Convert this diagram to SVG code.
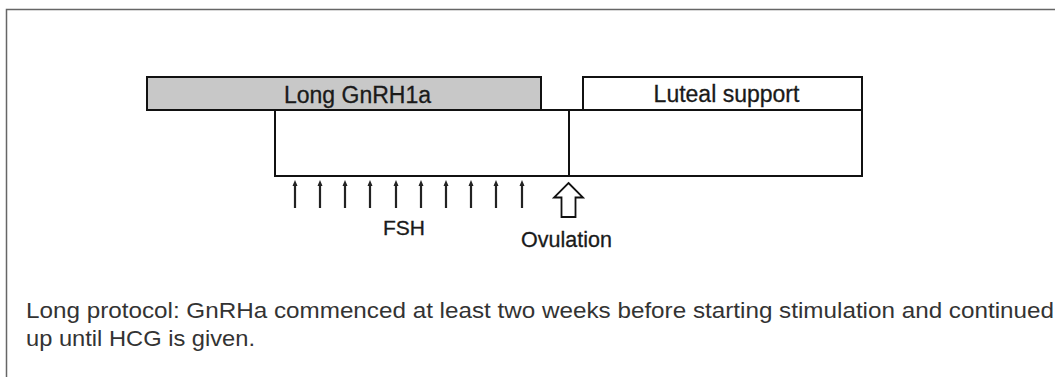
<svg xmlns="http://www.w3.org/2000/svg" width="1055" height="377" viewBox="0 0 1055 377">
<style>
.box{stroke:#111;stroke-width:2;}
.lbl{font-family:"Liberation Sans",Arial,sans-serif;fill:#1a1a1a;stroke:#1a1a1a;stroke-width:0.3;text-anchor:middle;}
.cap{font-family:"Liberation Sans",Arial,sans-serif;fill:#333;font-size:22px;}
.fsh{stroke:#222;stroke-width:2.2;fill:none;}
</style>
<rect width="1055" height="377" fill="#fff"/>
<g id="frame">
<path d="M6.5,377 V9.5 H1055" fill="none" stroke="#666" stroke-width="1.5"/>
</g>
<g id="long-gnrh1a">
<rect class="box" x="147" y="77" width="394" height="33" fill="#c8c8c8"/>
<text class="lbl" x="357.5" y="103" font-size="23">Long GnRH1a</text>
</g>
<g id="luteal-support">
<rect class="box" x="583" y="77" width="279" height="33" fill="#fff"/>
<text class="lbl" x="726.5" y="102" font-size="23">Luteal support</text>
</g>
<g id="stimulation">
<rect class="box" x="275" y="110" width="294" height="66" fill="#fff"/>
</g>
<g id="luteal-phase">
<rect class="box" x="569" y="110" width="293" height="66" fill="#fff"/>
</g>
<g id="connectors">
<path class="fsh" d="M295,208 V184 M320,208 V184 M345,208 V184 M370,208 V184 M396,208 V184 M421,208 V184 M446,208 V184 M471,208 V184 M496,208 V184 M522,208 V184"/>
<g fill="#222">
<path d="M295,180 l-2.5,6 h5 z"/>
<path d="M320,180 l-2.5,6 h5 z"/>
<path d="M345,180 l-2.5,6 h5 z"/>
<path d="M370,180 l-2.5,6 h5 z"/>
<path d="M396,180 l-2.5,6 h5 z"/>
<path d="M421,180 l-2.5,6 h5 z"/>
<path d="M446,180 l-2.5,6 h5 z"/>
<path d="M471,180 l-2.5,6 h5 z"/>
<path d="M496,180 l-2.5,6 h5 z"/>
<path d="M522,180 l-2.5,6 h5 z"/>
</g>
<path d="M568.5,183 L583,197.5 H575.5 V217 H561.5 V197.5 H554 Z" fill="#fff" stroke="#111" stroke-width="1.8"/>
</g>
<g id="fsh-label"><text class="lbl" x="404" y="235" font-size="21">FSH</text></g>
<g id="ovulation-label"><text class="lbl" x="566.5" y="247" font-size="21.5">Ovulation</text></g>
<g id="caption">
<text class="cap" x="26" y="318" textLength="1028" lengthAdjust="spacingAndGlyphs">Long protocol: GnRHa commenced at least two weeks before starting stimulation and continued</text>
<text class="cap" x="26" y="346" textLength="229" lengthAdjust="spacingAndGlyphs">up until HCG is given.</text>
</g>
</svg>
